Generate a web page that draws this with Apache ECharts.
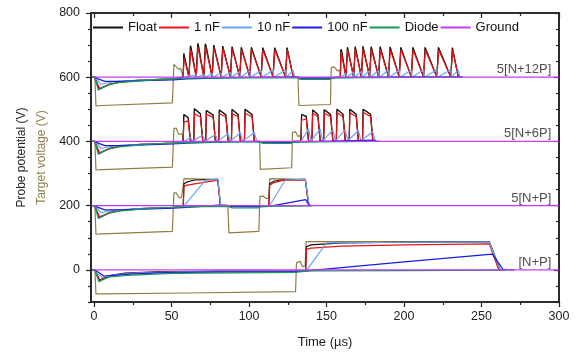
<!DOCTYPE html>
<html>
<head>
<meta charset="utf-8">
<script src="https://cdn.jsdelivr.net/npm/echarts@6/dist/echarts.min.js"></script>
<style>
  html, body { margin: 0; padding: 0; background: #fff; }
  #chart { width: 576px; height: 356px; }
</style>
</head>
<body>
<div id="chart"></div>
<script>
// legend names / colours
var names = ['Float', '1 nF', '10 nF', '100 nF', 'Diode', 'Ground'];
var colors = ['#111111', '#e8141c', '#6aa4f5', '#1c1cdc', '#16985a', '#c43cf0'];
var targetColor = '#8f7d45';

// vertical offsets of the four stacked traces and their tags
var offsets = [0, 200, 400, 600];
var tags = ['[N+P]', '5[N+P]', '5[N+6P]', '5[N+12P]'];

var xTicks = [0, 50, 100, 150, 200, 250, 300];
var xMinor = [25, 75, 125, 175, 225, 275];
var yTicks = [0, 200, 400, 600, 800];
var yMinor = [-100, -50, 50, 100, 150, 250, 300, 350, 450, 500, 550, 650, 700, 750];

// ---- first negative phase, shared by the 5[...] traces (t, V relative to offset)
var negTarget = [[-1,0],[0.5,0],[1.2,-89],[5,-88],[50.5,-80]];
var negFloat = [[-1,0],[0.5,0],[1.5,-15],[3.3,-38],[6,-31],[10,-22],[18,-14],[30,-9],[51,-5]];
var negRed = [[-1,0],[0.5,0],[1.5,-12],[3.5,-35],[6,-30],[10,-21],[18,-14],[30,-9],[51,-5]];
var negLight = [[-1,0],[0.5,0],[2,-8],[4.5,-22],[8,-18],[15,-13],[30,-9],[51,-6]];
var negBlue = [[-1,0],[0.5,0],[3,-6],[7,-13],[16,-13],[37,-10],[51,-8]];
var negDiode = [[-1,0],[0.5,0],[1.5,-18],[2.7,-40],[5,-33],[10,-23],[16,-17],[37.5,-8],[51,-5]];
var ground = [[-1,0],[300,0]];

// ---- [N+P]
var npTarget = [[-1,0],[0.5,0],[1.2,-75],[5,-75],[60,-72],[130,-68],[130.6,22],[131.5,26],[133,27],[134.5,10],[136.2,12],[136.8,88],[200,88],[255,88],[262,0],[266,0]];
var npFloat = [[-1,0],[0.5,0],[1.5,-12],[3.5,-32],[6,-26],[10,-18],[20,-10],[40,-6],[80,-4],[130,-3],[136.5,-2],[137,72],[140,78],[160,84],[200,86],[255,88],[262,1],[264,0]];
var npRed = [[-1,0],[0.5,0],[1.5,-12],[4,-33],[7,-26],[12,-17],[25,-11],[50,-7],[130,-4],[136.5,-3],[137,64],[140,68],[160,74],[200,78],[255,81],[261,1],[263,0]];
var npLight = [[-1,0],[0.5,0],[2,-10],[5,-23],[8,-20],[15,-14],[30,-9],[60,-6],[130,-4],[137,-2],[150,84],[200,86],[255,87],[262,1],[264,0]];
var npBlue = [[-1,0],[0.5,0],[3,-8],[6.3,-19],[10,-18],[20,-14],[40,-9],[80,-6],[130,-5],[137,-3],[200,25],[257,49],[264,1],[271,0]];
var npDiode = [[-1,0],[0.5,0],[1.5,-15],[3.1,-37],[6,-30],[10,-22],[25.6,-16],[50,-11],[90,-9],[130,-8],[137,-4],[140,-3],[200,-2],[265,-1]];

// ---- 5[N+P]
var p1Target = [[51,-80],[51.5,40],[53,40],[55,24],[56.5,26],[57.5,26],[58,84],[70,83],[79.8,82],[81.5,2],[86.3,0],[87,-85],[106.3,-80],[107,29],[109,30],[111,22],[112.7,24],[113.3,84],[136.3,82],[138.5,0],[141,0]];
var p1Float = [[54,-4],[57.5,-3],[58,68],[60,74],[65,80],[79.8,82],[81.5,2],[87,0],[107,-1],[112.7,-2],[113.3,68],[116,76],[120,80],[136.3,82],[138.5,1],[140,0]];
var p1Red = [[54,-4],[57.5,-3],[58,60],[60,64],[70,72],[78,78],[79.8,79],[81.5,2],[87,0],[107,-1],[112.7,-2],[113.3,64],[116,72],[122,79],[136.3,80],[138.5,1],[140,0]];
var p1Light = [[57.5,-4],[72,80],[79.8,82],[81.8,2],[87,0],[107,-1],[113,-2],[123.4,80],[136.3,82],[138.8,1],[140,0]];
var p1Blue = [[57,-6],[70,-2],[80,2],[82,0],[87,-2],[107,-3],[113,-2],[136.5,19],[138.5,3],[140.5,0]];
var p1Diode = [[57,-4],[80,-2],[87,-3],[89,-7],[106,-7],[107.5,-3],[113,-2],[138,-1],[140,0]];

// ---- 5[N+6P]
var six1Float = [[57.5,0],[57.9,84],[58.7,80],[60.7,74],[62.2,1],
  [64.3,1],[64.7,102],[65.5,96],[68.6,86],[70.1,1],
  [72.0,1],[72.4,96],[73.2,92],[76.8,82],[78.3,1],
  [80.4,1],[80.8,98],[81.6,93],[85.0,83],[86.5,1],
  [88.6,1],[89.0,100],[89.8,94],[92.9,84],[94.4,1],
  [97.0,1],[97.4,100],[98.2,95],[101.9,84],[103.4,1]];
var six1Red = [[57.5,0],[57.9,60],[58.5,66],[60.7,64],[62.2,1],
  [64.3,0],[64.8,86],[68.6,76],[70.1,1],
  [72.0,0],[72.5,85],[76.8,75],[78.3,1],
  [80.4,0],[80.9,86],[85.0,76],[86.5,1],
  [88.6,0],[89.1,87],[92.9,77],[94.4,1],
  [97.0,0],[97.5,88],[101.9,77],[103.4,1]];
var six1Light = [[57.5,-2],[62.2,12],[63.7,1],[64.3,0],[70.1,20],[71.6,1],[72.0,0],[78.3,22],[79.8,1],[80.4,0],[86.5,24],[88,1],[88.6,0],[94.4,27],[95.9,1],[97,0],[103.4,27],[105,1]];
var six2Float = [[133.5,1],[133.9,84],[134.7,82],[136.9,78],[138.4,1],
  [140.6,1],[141.0,98],[141.8,93],[144.4,84],[145.9,1],
  [148.1,1],[148.5,99],[149.3,94],[152.6,84],[154.1,1],
  [156.3,1],[156.7,100],[157.5,95],[160.6,85],[162.1,1],
  [164.6,1],[165.0,100],[165.8,95],[169.1,85],[170.6,1],
  [173.2,1],[173.6,100],[174.4,95],[178.4,85],[179.9,1]];
var six2Red = [[133.5,0],[133.9,66],[134.5,72],[136.9,70],[138.4,1],
  [140.6,0],[141.1,88],[144.4,77],[145.9,1],
  [148.1,0],[148.6,88],[152.6,78],[154.1,1],
  [156.3,0],[156.8,89],[160.6,78],[162.1,1],
  [164.6,0],[165.1,89],[169.1,78],[170.6,1],
  [173.2,0],[173.7,90],[178.4,78],[179.9,1]];
var six2Light = [[133.5,0],[138.4,40],[140,2],[140.6,1],[145.9,38],[147.5,2],[148.1,1],[154.1,36],[155.7,2],[156.3,1],[162.1,36],[163.7,2],[164.6,1],[170.6,34],[172.2,2],[173.2,1],[179.9,30],[181.5,1]];
var sixTargetA = [[51,-80],[51.5,40],[53,42],[54.5,22],[56.8,24]];
var sixTargetB = [[106.8,0],[107.3,-87],[127.5,-82],[128,28],[130,30],[131.5,16],[133,18]];
var sixGapFloat = [[107,0],[108,-1],[127.5,-2],[129,0]];
var sixGapLight = [[108,-1],[127.5,-2],[129,0]];
var sixBlue = [[60,-5],[80,-2],[103,0],[107,-2],[128,-3],[135,-1],[160,2],[180,4],[182,1],[184,0]];
var sixDiode = [[57,-4],[80,-2],[104,-1],[107.5,-3],[109,-6],[127,-6],[128.5,-2],[180,0],[182,0]];

// ---- 5[N+12P]
var twelve1Float = [[57.5,1],[57.9,74],[58.4,62],[61.2,1],
  [61.8,1],[62.2,98],[62.7,88],[65.9,1],
  [66.5,1],[66.9,105],[67.4,96],[70.8,1],
  [71.4,1],[71.8,104],[72.3,96],[76.2,1],
  [76.8,1],[77.2,100],[77.7,94],[82.0,1],
  [82.6,1],[83.0,97],[83.5,92],[88.0,1],
  [88.6,1],[89.0,95],[89.5,90],[94.0,1],
  [94.6,1],[95.0,93],[95.5,88],[100.5,1],
  [101.1,1],[101.5,93],[102.0,88],[107.8,1],
  [108.4,1],[108.8,92],[109.3,87],[115.5,1],
  [116.1,1],[116.5,92],[117.0,87],[123.5,1],
  [124.1,1],[124.5,92],[125.0,87],[128.5,1]];
var twelve1Red = [[57.5,0],[58.0,60],[61.2,1],
  [61.8,0],[62.3,86],[65.9,1],
  [66.5,0],[67.0,94],[70.8,1],
  [71.4,0],[71.9,94],[76.2,1],
  [76.8,0],[77.3,92],[82.0,1],
  [82.6,0],[83.1,90],[88.0,1],
  [88.6,0],[89.1,88],[94.0,1],
  [94.6,0],[95.1,86],[100.5,1],
  [101.1,0],[101.6,86],[107.8,1],
  [108.4,0],[108.9,85],[115.5,1],
  [116.1,0],[116.6,85],[123.5,1],
  [124.1,0],[124.6,85],[128.5,1]];
var twelve1Light = [[57.5,-2],[61.2,4],[61.7,0],[65.9,7],[66.4,0],[70.8,9],[71.3,0],[76.2,11],[76.7,0],[82.0,13],[82.5,0],[88.0,15],[88.5,0],[94.0,18],[94.5,0],[100.5,20],[101.0,0],[107.8,21],[108.3,0],[115.5,22],[116.0,0],[123.5,22],[124.0,0],[128.5,20],[129.5,0]];
var twelve2Float = [[158.9,1],[159.3,87],[159.8,80],[162.5,1],
  [163.1,1],[163.5,93],[164.0,87],[167.5,1],
  [168.1,1],[168.5,95],[169.0,89],[172.5,1],
  [173.1,1],[173.5,96],[174.0,90],[177.8,1],
  [178.4,1],[178.8,95],[179.3,89],[183.6,1],
  [184.2,1],[184.6,95],[185.1,89],[190.0,1],
  [190.6,1],[191.0,94],[191.5,88],[196.9,1],
  [197.5,1],[197.9,93],[198.4,88],[204.7,1],
  [205.3,1],[205.7,93],[206.2,87],[212.6,1],
  [213.2,1],[213.6,93],[214.1,87],[221.2,1],
  [221.8,1],[222.2,93],[222.7,87],[230.2,1],
  [230.8,1],[231.2,92],[231.7,87],[235.0,1]];
var twelve2Red = [[158.9,0],[159.4,78],[162.5,1],
  [163.1,0],[163.6,85],[167.5,1],
  [168.1,0],[168.6,87],[172.5,1],
  [173.1,0],[173.6,88],[177.8,1],
  [178.4,0],[178.9,87],[183.6,1],
  [184.2,0],[184.7,87],[190.0,1],
  [190.6,0],[191.1,86],[196.9,1],
  [197.5,0],[198.0,86],[204.7,1],
  [205.3,0],[205.8,85],[212.6,1],
  [213.2,0],[213.7,85],[221.2,1],
  [221.8,0],[222.3,85],[230.2,1],
  [230.8,0],[231.3,85],[235.0,1]];
var twelve2Light = [[158.9,0],[162.5,12],[163.0,0],[167.5,16],[168.0,0],[172.5,18],[173.0,0],[177.8,20],[178.3,0],[183.6,21],[184.1,0],[190.0,22],[190.5,0],[196.9,22],[197.4,0],[204.7,22],[205.2,0],[212.6,23],[213.1,0],[221.2,23],[221.7,0],[230.2,23],[230.7,0],[235.0,23],[236,0]];
var twelveTargetA = [[51,-80],[51.5,40],[52.5,43],[54.5,25],[56,27],[57,25]];
var twelveTargetB = [[131.5,0],[132.2,-88],[152.5,-85],[153,30],[155,32],[157,20],[158.5,22]];
var twelveGapFloat = [[131.5,0],[133,-1],[152.5,-2],[154,-1]];
var twelveGapLight = [[133,-2],[152.5,-3],[154,-1]];
var twelveBlue = [[60,-5],[90,-1],[128,1],[131,0],[133,-3],[152,-3],[155,-1],[200,1],[236,1],[238,0]];
var twelveDiode = [[60,-3],[128,-1],[131.5,-2],[133,-7],[152,-7],[153.5,-2],[236,0]];

// traces per group, in legend order (target first so it sits underneath)
var groups = [
  [npTarget, npFloat, npRed, npLight, npBlue, npDiode, ground],
  [negTarget.concat(p1Target), negFloat.concat(p1Float), negRed.concat(p1Red),
   negLight.concat(p1Light), negBlue.concat(p1Blue), negDiode.concat(p1Diode), ground],
  [negTarget.concat(sixTargetA, six1Float, sixTargetB, six2Float, [[182,0]]),
   negFloat.concat([[54,-4]], six1Float, sixGapFloat, six2Float, [[182,0]]),
   negRed.concat([[54,-4]], six1Red, sixGapFloat, six2Red, [[182,0]]),
   negLight.concat([[54,-5]], six1Light, sixGapLight, six2Light, [[183,0]]),
   negBlue.concat(sixBlue), negDiode.concat(sixDiode), ground],
  [negTarget.concat(twelveTargetA, twelve1Float, twelveTargetB, twelve2Float, [[237,0]]),
   negFloat.concat([[54,-3]], twelve1Float, twelveGapFloat, twelve2Float, [[237,0]]),
   negRed.concat([[54,-3]], twelve1Red, twelveGapFloat, twelve2Red, [[237,0]]),
   negLight.concat([[54,-5]], twelve1Light, twelveGapLight, twelve2Light, [[237,0]]),
   negBlue.concat(twelveBlue), negDiode.concat(twelveDiode), ground]
];

function shift(arr, off) {
  return arr.map(function (p) { return [p[0], p[1] + off]; });
}

var series = [];
groups.forEach(function (g, gi) {
  var off = offsets[gi];
  series.push({
    name: 'Target', type: 'line', data: shift(g[0], off), symbol: 'none',
    lineStyle: {color: targetColor, width: 1.2}, itemStyle: {color: targetColor}
  });
  for (var k = 0; k < names.length; k++) {
    series.push({
      name: names[k], type: 'line', data: shift(g[k + 1], off), symbol: 'none',
      lineStyle: {color: colors[k], width: 1.2}, itemStyle: {color: colors[k]}
    });
  }
});

// trace tags on the right
series.push({
  type: 'scatter', symbolSize: 0, silent: true,
  data: offsets.map(function (o, i) { return [297, o + 24, tags[i]]; }),
  label: {
    show: true, position: 'left', distance: 3, color: '#222', fontSize: 13,
    fontFamily: 'Liberation Sans, Arial, sans-serif',
    formatter: function (p) { return p.data[2]; }
  }
});

var font = 'Liberation Sans, Arial, sans-serif';
var axisCol = '#222';

function xAx(pos, values, len, inside, labels) {
  return {
    type: 'value', position: pos, min: -2, max: 300,
    axisLine: {show: true, onZero: false, lineStyle: {color: axisCol, width: 1.6}},
    axisTick: {show: true, inside: inside, length: len, customValues: values,
               lineStyle: {color: axisCol, width: 1.2}},
    axisLabel: labels ? {show: true, customValues: values, color: axisCol, fontSize: 12.5,
                         fontFamily: font, margin: 8} : {show: false},
    splitLine: {show: false}
  };
}
function yAx(pos, values, len, inside, labels) {
  return {
    type: 'value', position: pos, min: -100, max: 800,
    axisLine: {show: true, onZero: false, lineStyle: {color: axisCol, width: 1.6}},
    axisTick: {show: true, inside: inside, length: len, customValues: values,
               lineStyle: {color: axisCol, width: 1.2}},
    axisLabel: labels ? {show: true, customValues: values, color: axisCol, fontSize: 12.5,
                         fontFamily: font, margin: 11} : {show: false},
    splitLine: {show: false}
  };
}

var xMain = xAx('bottom', xTicks, 5, false, true);
xMain.name = 'Time (\u00b5s)';
xMain.nameLocation = 'middle';
xMain.nameGap = 34;
xMain.nameTextStyle = {color: axisCol, fontSize: 13, fontFamily: font};

var yMain = yAx('left', yTicks, 5, false, true);
yMain.name = '{p|Probe potential (V)}\n{t|Target voltage (V)}';
yMain.nameLocation = 'middle';
yMain.nameGap = 39;
yMain.nameTextStyle = {
  fontFamily: font,
  rich: {
    p: {color: axisCol, fontSize: 12, lineHeight: 20, fontFamily: font},
    t: {color: targetColor, fontSize: 12, lineHeight: 20, fontFamily: font}
  }
};

var chart = echarts.init(document.getElementById('chart'), null, {renderer: 'canvas'});
chart.setOption({
  animation: false,
  backgroundColor: '#fff',
  grid: {left: 91, right: 17, top: 13, bottom: 54, outerBoundsMode: 'none', containLabel: false},
  legend: {
    data: names, top: 21, left: 93, padding: 0, icon: 'rect', itemWidth: 30, itemHeight: 2, itemGap: 2,
    textStyle: {fontSize: 13, color: '#111', fontFamily: font}
  },
  xAxis: [
    xMain,
    xAx('bottom', xMinor, 3, false, false),
    xAx('top', xTicks, 5, true, false),
    xAx('top', xMinor, 3, true, false)
  ],
  yAxis: [
    yMain,
    yAx('left', yMinor, 3, false, false),
    yAx('right', yTicks, 5, true, false),
    yAx('right', yMinor, 3, true, false)
  ],
  series: series
});
</script>
</body>
</html>
